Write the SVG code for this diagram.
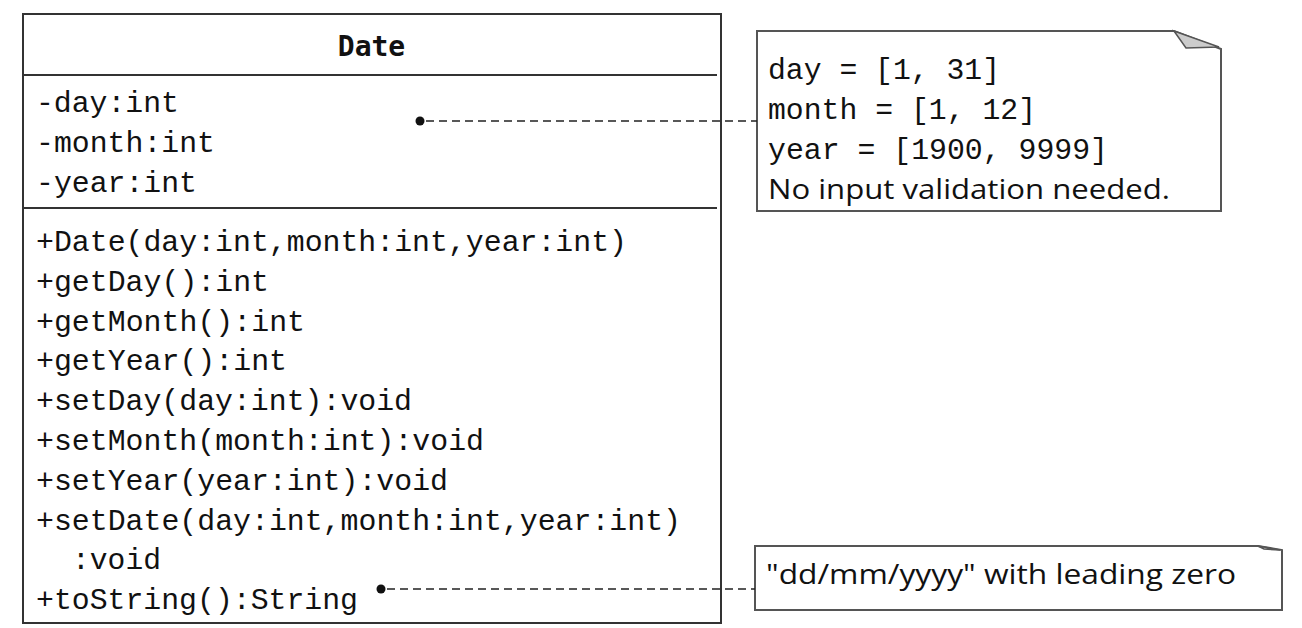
<svg xmlns="http://www.w3.org/2000/svg" width="1302" height="628" viewBox="0 0 1302 628">
<style>
.box{fill:#fff;stroke:#333;stroke-width:2}
.div{stroke:#333;stroke-width:2}
.note{fill:#fff;stroke:#555;stroke-width:2}
.fold{fill:#ccc;stroke:#555;stroke-width:1.5}
.mono{font-family:"Liberation Mono","DejaVu Sans Mono",monospace;font-size:30px;fill:#111}
.sans{font-family:"Open Sans","Liberation Sans",sans-serif;font-size:28px;fill:#111}
.title{font-family:"DejaVu Sans Mono","Liberation Mono",monospace;font-size:28px;font-weight:bold;fill:#111}
.conn{stroke:#222;stroke-width:1.6;stroke-dasharray:8 5;fill:none}
</style>
<rect width="1302" height="628" fill="#fff"/>
<g id="class-Date">
<rect class="box" x="23" y="14" width="698" height="609"/>
<line class="div" x1="23" y1="75" x2="717" y2="75"/>
<line class="div" x1="23" y1="208" x2="717" y2="208"/>
<text class="title" x="371.5" y="56" text-anchor="middle">Date</text>
<text class="mono" x="36" y="112" textLength="143" lengthAdjust="spacingAndGlyphs">-day:int</text>
<text class="mono" x="36" y="152" textLength="179" lengthAdjust="spacingAndGlyphs">-month:int</text>
<text class="mono" x="36" y="192" textLength="161" lengthAdjust="spacingAndGlyphs">-year:int</text>
<text class="mono" x="36" y="251" textLength="591" lengthAdjust="spacingAndGlyphs">+Date(day:int,month:int,year:int)</text>
<text class="mono" x="36" y="291" textLength="233" lengthAdjust="spacingAndGlyphs">+getDay():int</text>
<text class="mono" x="36" y="331" textLength="269" lengthAdjust="spacingAndGlyphs">+getMonth():int</text>
<text class="mono" x="36" y="370" textLength="251" lengthAdjust="spacingAndGlyphs">+getYear():int</text>
<text class="mono" x="36" y="410" textLength="376" lengthAdjust="spacingAndGlyphs">+setDay(day:int):void</text>
<text class="mono" x="36" y="450" textLength="448" lengthAdjust="spacingAndGlyphs">+setMonth(month:int):void</text>
<text class="mono" x="36" y="490" textLength="412" lengthAdjust="spacingAndGlyphs">+setYear(year:int):void</text>
<text class="mono" x="36" y="530" textLength="645" lengthAdjust="spacingAndGlyphs">+setDate(day:int,month:int,year:int)</text>
<text class="mono" x="72" y="569" textLength="89" lengthAdjust="spacingAndGlyphs">:void</text>
<text class="mono" x="36" y="609" textLength="322" lengthAdjust="spacingAndGlyphs">+toString():String</text>
</g>
<g id="note-ranges">
<path class="note" d="M757 31 H1174 L1221 49 V211 H757 Z"/>
<path class="fold" d="M1174 31 L1186 48 L1219 47 Z"/>
<text class="mono" x="768" y="79" textLength="232" lengthAdjust="spacingAndGlyphs">day = [1, 31]</text>
<text class="mono" x="768" y="119" textLength="268" lengthAdjust="spacingAndGlyphs">month = [1, 12]</text>
<text class="mono" x="768" y="159" textLength="340" lengthAdjust="spacingAndGlyphs">year = [1900, 9999]</text>
<text class="sans" x="768" y="199" textLength="402" lengthAdjust="spacingAndGlyphs">No input validation needed.</text>
</g>
<g id="note-format">
<path class="note" d="M755 546 H1258 L1282 550 V610 H755 Z"/>
<path class="fold" d="M1258 546 L1264 549 L1280 550 Z"/>
<text class="sans" x="766" y="584" textLength="470" lengthAdjust="spacingAndGlyphs">"dd/mm/yyyy" with leading zero</text>
</g>
<g id="connectors">
<circle cx="420" cy="121" r="4.5" fill="#111"/>
<line class="conn" x1="426" y1="121" x2="757" y2="121"/>
<circle cx="381" cy="589" r="4.5" fill="#111"/>
<line class="conn" x1="387" y1="589" x2="755" y2="589"/>
</g>
</svg>
